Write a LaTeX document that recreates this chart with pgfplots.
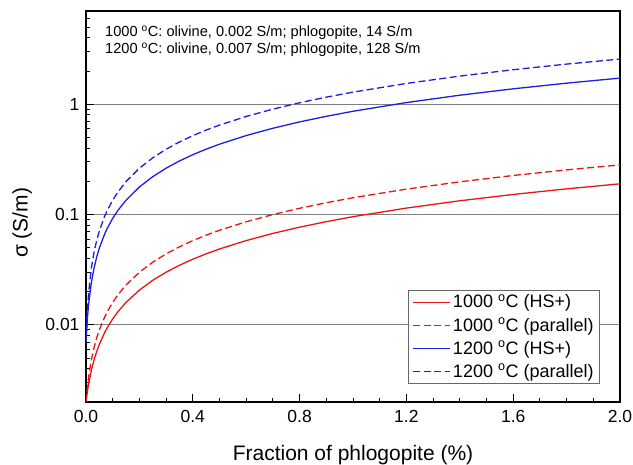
\documentclass[border=0pt]{standalone}
\usepackage{fontspec}
\setmainfont{Liberation Sans}
\usepackage{pgfplots}
\pgfplotsset{compat=1.18}
\definecolor{cred}{RGB}{235,20,20}
\definecolor{cblue}{RGB}{30,30,225}
\begin{document}
\begin{tikzpicture}
\path[use as bounding box] (-86pt,-63pt) rectangle (547pt,402pt);
\begin{axis}[
  scale only axis,
  width=534pt, height=391pt,
  at={(0pt,0pt)}, anchor=south west,
  xmin=0, xmax=2,
  ymode=log, ymin=0.002, ymax=7,
  axis line style={line width=1.3pt},
  tick align=inside,
  xtick pos=bottom, ytick pos=left,
  major tick length=8pt, minor tick length=4.5pt,
  every tick/.style={black, line width=0.9pt},
  xtick={0,0.4,0.8,1.2,1.6,2.0},
  xticklabels={0.0,0.4,0.8,1.2,1.6,2.0},
  minor xtick={0.1,0.2,0.3,0.5,0.6,0.7,0.9,1.0,1.1,1.3,1.4,1.5,1.7,1.8,1.9},
  ytick={0.01,0.1,1},
  yticklabels={0.01,0.1,1},
  minor ytick={0.002,0.003,0.004,0.005,0.006,0.007,0.008,0.009,
               0.02,0.03,0.04,0.05,0.06,0.07,0.08,0.09,
               0.2,0.3,0.4,0.5,0.6,0.7,0.8,0.9,2,3,4,5,6,7},
  ymajorgrids,
  major grid style={gray, line width=0.9pt},
  tick label style={font=\fontsize{17.5}{20}\selectfont},
  xticklabel style={yshift=-5pt},
  yticklabel style={xshift=-3pt},
  xlabel={Fraction of phlogopite (\%)},
  ylabel={σ (S/m)},
  label style={font=\fontsize{21}{24}\selectfont, inner sep=0pt},
  xlabel style={at={(axis description cs:0.5,0)}, anchor=north, yshift=-43pt},
  ylabel style={at={(axis description cs:-0.101,0.458)}, anchor=south},
  legend cell align=left,
  legend style={at={(rel axis cs:0.9625,0.046)}, anchor=south east,
    draw=gray!80!black, line width=0.8pt, fill=white,
    font=\fontsize{18}{21}\selectfont, row sep=4.5pt,
    inner xsep=4pt, inner ysep=3pt},
  legend image code/.code={\draw[#1] (0pt,0pt) -- (37pt,0pt);},
]
\addplot[cred, line width=1.3pt] coordinates {
 (0,0.002) (0.005,0.0024666) (0.01,0.0029333) (0.02,0.0038666) (0.03,0.0048)
 (0.04,0.0057336) (0.05,0.0066671) (0.07,0.0085344) (0.08,0.009468) (0.1,0.011336)
 (0.12,0.013204) (0.15,0.016006) (0.2,0.020678) (0.25,0.025351) (0.3,0.030026)
 (0.35,0.034702) (0.4,0.039381) (0.45,0.04406) (0.5,0.048741) (0.6,0.058108)
 (0.7,0.067481) (0.8,0.076861) (0.9,0.086247) (1.0,0.095639) (1.2,0.114442)
 (1.4,0.13327) (1.6,0.152123) (1.8,0.171002) (2.0,0.189906)};
\addlegendentry{1000 \textsuperscript{o}C (HS+)}
\addplot[cred, line width=1.3pt, dash pattern=on 7pt off 3.5pt] coordinates {
 (0,0.002) (0.005,0.0027) (0.01,0.0034) (0.02,0.0048) (0.03,0.0062)
 (0.04,0.0076) (0.05,0.009) (0.07,0.0118) (0.08,0.0132) (0.1,0.016)
 (0.12,0.0188) (0.15,0.023) (0.2,0.030) (0.25,0.037) (0.3,0.044)
 (0.35,0.051) (0.4,0.058) (0.45,0.065) (0.5,0.072) (0.6,0.086)
 (0.7,0.100) (0.8,0.114) (0.9,0.128) (1.0,0.142) (1.2,0.170)
 (1.4,0.198) (1.6,0.226) (1.8,0.254) (2.0,0.282)};
\addlegendentry{1000 \textsuperscript{o}C (parallel)}
\addplot[cblue, line width=1.3pt] coordinates {
 (0,0.007) (0.005,0.011267) (0.01,0.015533) (0.02,0.024067) (0.03,0.032602)
 (0.04,0.041137) (0.05,0.049673) (0.07,0.066745) (0.08,0.075283) (0.1,0.092359)
 (0.12,0.109438) (0.15,0.13506) (0.2,0.177776) (0.25,0.220506) (0.3,0.263249)
 (0.35,0.306007) (0.4,0.34878) (0.45,0.391566) (0.5,0.434367) (0.6,0.520011)
 (0.7,0.605714) (0.8,0.691473) (0.9,0.77729) (1.0,0.863164) (1.2,1.035084)
 (1.4,1.207236) (1.6,1.379617) (1.8,1.55223) (2.0,1.725074)};
\addlegendentry{1200 \textsuperscript{o}C (HS+)}
\addplot[cblue, line width=1.3pt, dash pattern=on 7pt off 3.5pt] coordinates {
 (0,0.007) (0.005,0.0134) (0.01,0.0198) (0.02,0.0326) (0.03,0.0454)
 (0.04,0.0582) (0.05,0.071) (0.07,0.0966) (0.08,0.1094) (0.1,0.135)
 (0.12,0.1606) (0.15,0.199) (0.2,0.263) (0.25,0.327) (0.3,0.391)
 (0.35,0.455) (0.4,0.519) (0.45,0.583) (0.5,0.647) (0.6,0.775)
 (0.7,0.903) (0.8,1.031) (0.9,1.159) (1.0,1.287) (1.2,1.543)
 (1.4,1.799) (1.6,2.055) (1.8,2.311) (2.0,2.567)};
\addlegendentry{1200 \textsuperscript{o}C (parallel)}
\node[anchor=north west, align=left, inner sep=0pt,
  font=\fontsize{14.6}{16.7}\selectfont] at (rel axis cs:0.0356,0.962)
  {1000 \textsuperscript{o}C: olivine, 0.002 S/m; phlogopite, 14 S/m\\
   1200 \textsuperscript{o}C: olivine, 0.007 S/m; phlogopite, 128 S/m};
\end{axis}
\end{tikzpicture}
\end{document}
